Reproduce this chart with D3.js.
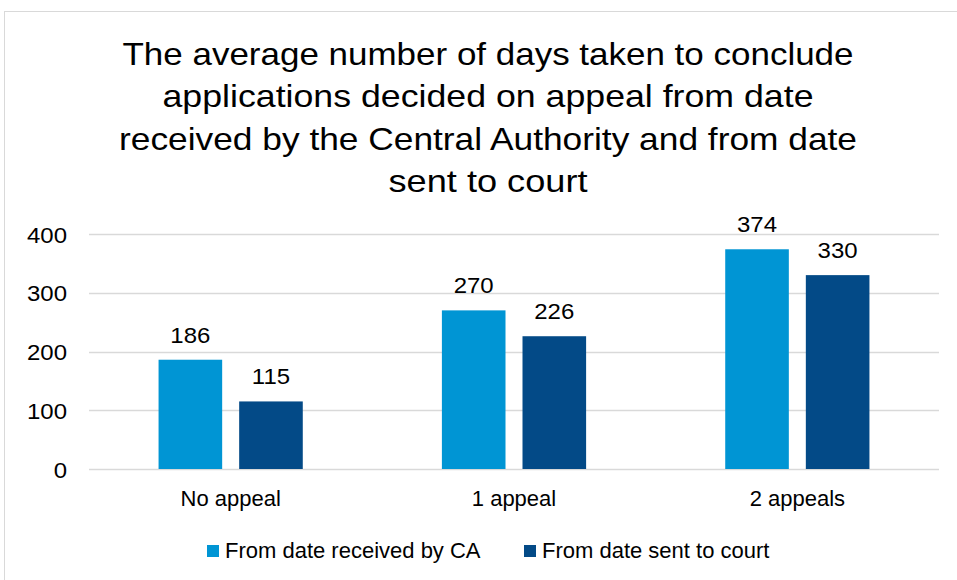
<!DOCTYPE html>
<html>
<head>
<meta charset="utf-8">
<script src="https://cdn.jsdelivr.net/npm/d3@7"></script>
<style>
  html, body { margin: 0; padding: 0; background: #fff; }
  svg { display: block; }
  text { font-family: "Liberation Sans", Arial, sans-serif; fill: #000; }
</style>
</head>
<body>
<svg id="chart" width="957" height="580"></svg>
<script>
const titleLines = [
  "The average number of days taken to conclude",
  "applications decided on appeal from date",
  "received by the Central Authority and from date",
  "sent to court"
];
const categories = ["No appeal", "1 appeal", "2 appeals"];
const seriesNames = ["From date received by CA", "From date sent to court"];
const seriesColors = ["#0095D4", "#034A87"];
const receivedByCA = [186, 270, 374];
const sentToCourt = [115, 226, 330];
const yTicks = [0, 100, 200, 300, 400];

const series = [receivedByCA, sentToCourt];
const W = 957, H = 580;
const svg = d3.select("#chart");

// chart border
svg.append("rect")
  .attr("x", 4.5).attr("y", 11.5)
  .attr("width", W + 10).attr("height", H + 10)
  .attr("fill", "#fff").attr("stroke", "#d9d9d9").attr("stroke-width", 1);

// title
const title = svg.append("text")
  .attr("text-anchor", "middle")
  .style("font-size", "32px");
const titleBase = [65, 107, 150, 192];
const titleWidths = [731, 651, 738, 199];
titleLines.forEach((t, i) => {
  title.append("tspan").attr("x", 488).attr("y", titleBase[i])
    .attr("textLength", titleWidths[i]).attr("lengthAdjust", "spacingAndGlyphs")
    .text(t);
});

const plot = { left: 89, right: 939, top: 234, bottom: 469 };
const x = d3.scaleBand().domain(categories).range([plot.left, plot.right]).paddingInner(0).paddingOuter(0);
const y = d3.scaleLinear().domain([0, 400]).range([plot.bottom, plot.top]);

// gridlines
svg.append("g")
  .selectAll("line").data(yTicks).join("line")
  .attr("x1", plot.left).attr("x2", plot.right)
  .attr("y1", d => Math.round(y(d)) + 0.5).attr("y2", d => Math.round(y(d)) + 0.5)
  .attr("stroke", "#d9d9d9").attr("stroke-width", 1.5);

const widen = sel => sel.each(function () {
  const w = this.getComputedTextLength();
  d3.select(this).attr("textLength", w * 1.09).attr("lengthAdjust", "spacingAndGlyphs");
});

// y axis labels
const yAxis = d3.axisLeft(y).tickValues(yTicks).tickSize(0).tickPadding(0);
const gy = svg.append("g").attr("transform", `translate(67,0)`).call(yAxis);
gy.select(".domain").remove();
gy.selectAll("text").style("font-size", "22px").style("font-family", null)
  .attr("fill", "#000").attr("dy", "8px").call(widen);

// bars
const bw = x.bandwidth();
const barW = bw * 0.2245;
const gap = bw * 0.06;
const inner = d3.scaleBand().domain([0, 1]).range([0, 2 * barW + gap]).paddingInner(gap / (barW + gap));

series.forEach((vals, si) => {
  const g = svg.append("g");
  g.selectAll("rect").data(vals).join("rect")
    .attr("x", (d, i) => x(categories[i]) + bw / 2 - (2 * barW + gap) / 2 + inner(si))
    .attr("y", d => y(d))
    .attr("width", inner.bandwidth())
    .attr("height", d => y(0) - y(d))
    .attr("fill", seriesColors[si]);
  g.selectAll("text").data(vals).join("text")
    .attr("x", (d, i) => x(categories[i]) + bw / 2 - (2 * barW + gap) / 2 + inner(si) + inner.bandwidth() / 2)
    .attr("y", d => y(d) - 17)
    .attr("text-anchor", "middle")
    .style("font-size", "22px")
    .text(d => d)
    .call(widen);
});

// x axis labels
const xAxis = d3.axisBottom(x).tickSize(0).tickPadding(0);
const gx = svg.append("g").attr("transform", `translate(0,506)`).call(xAxis);
gx.select(".domain").remove();
gx.selectAll("text").style("font-size", "22px").style("font-family", null).attr("fill", "#000").attr("dy", 0).attr("y", 0);

// legend
const legendX = [207, 524];
const leg = svg.append("g");
seriesNames.forEach((n, i) => {
  leg.append("rect").attr("x", legendX[i]).attr("y", 545).attr("width", 12).attr("height", 12).attr("fill", seriesColors[i]);
  leg.append("text").attr("x", legendX[i] + 18).attr("y", 558).style("font-size", "22px").text(n);
});
</script>
</body>
</html>
